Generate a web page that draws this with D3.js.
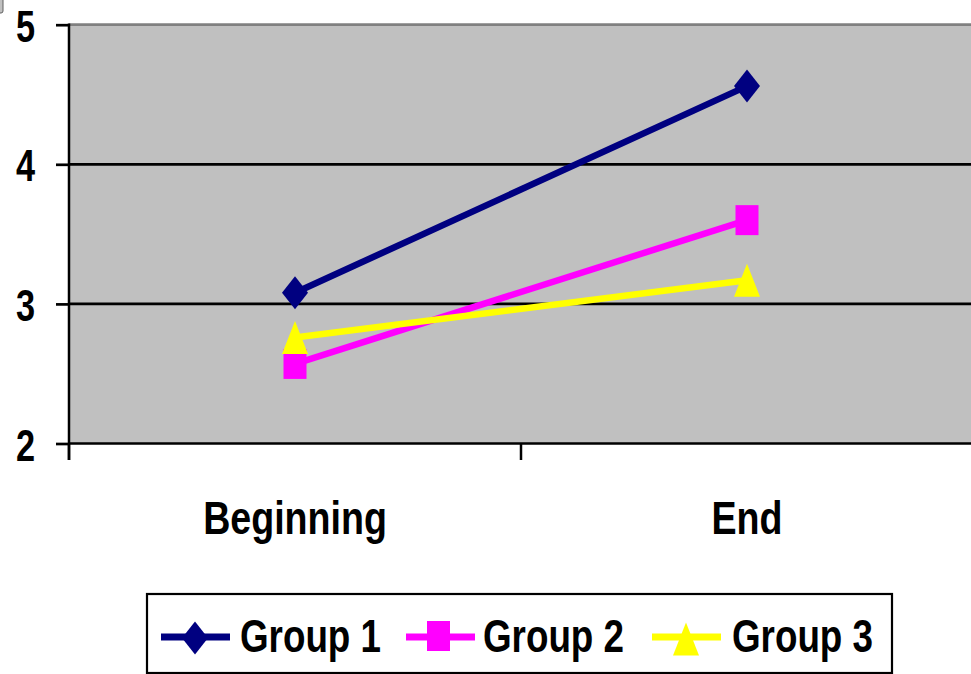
<!DOCTYPE html>
<html>
<head>
<meta charset="utf-8">
<script src="https://cdn.jsdelivr.net/npm/d3@7"></script>
<style>
  html, body { margin: 0; padding: 0; background: #fff; overflow: hidden; }
  svg { display: block; }
  text { font-family: "Liberation Sans", Arial, sans-serif; font-weight: bold; fill: #000; }
</style>
</head>
<body>
<svg id="chart" width="971" height="674"></svg>
<script>
// Categories, series and axis ticks
const categories = ["Beginning", "End"];
const seriesNames = ["Group 1", "Group 2", "Group 3"];
const group1 = [3.08, 4.56];
const group2 = [2.57, 3.60];
const group3 = [2.76, 3.17];
const yTicks = [2, 3, 4, 5];

const colors = ["#000080", "#FF00FF", "#FFFF00"];
const shapes = ["diamond", "square", "triangle"];
const seriesValues = [group1, group2, group3];

const svg = d3.select("#chart");
const plot = { left: 69, right: 973, top: 24.7, bottom: 443.5 };
const sx = 0.78; // horizontal squeeze for tick glyphs
const sxL = 0.80; // horizontal squeeze for category and legend glyphs

const x = d3.scaleBand().domain(categories).range([plot.left, plot.right]).padding(0);
const y = d3.scaleLinear().domain([2, 5]).range([plot.bottom, plot.top]);
const cx = c => x(c) + x.bandwidth() / 2;

// small corner widget
svg.append("rect").attr("x", -6).attr("y", -4).attr("width", 9).attr("height", 17).attr("rx", 2)
  .attr("fill", "#c0c0c0").attr("stroke", "#606060").attr("stroke-width", 1);

// plot background
svg.append("rect")
  .attr("x", plot.left).attr("y", plot.top)
  .attr("width", plot.right - plot.left).attr("height", plot.bottom - plot.top)
  .attr("fill", "#C0C0C0");
// top border
svg.append("line").attr("x1", plot.left).attr("x2", plot.right)
  .attr("y1", plot.top).attr("y2", plot.top)
  .attr("stroke", "#808080").attr("stroke-width", 2.7);

// horizontal gridlines
svg.append("g").selectAll("line").data(yTicks.filter(v => v > 2 && v < 5)).join("line")
  .attr("x1", plot.left).attr("x2", plot.right)
  .attr("y1", d => y(d)).attr("y2", d => y(d))
  .attr("stroke", "#000").attr("stroke-width", 2.7);

// y axis
const yAxis = d3.axisLeft(y).tickValues(yTicks).tickSize(13).tickFormat("");
const gy = svg.append("g").attr("transform", `translate(${plot.left},0)`).call(yAxis);
gy.select(".domain").remove();
gy.selectAll(".tick line").attr("stroke", "#000").attr("stroke-width", 2.7);
svg.append("line").attr("x1", plot.left).attr("x2", plot.left)
  .attr("y1", plot.top - 1.3).attr("y2", 460)
  .attr("stroke", "#000").attr("stroke-width", 2.5);

// y tick labels
svg.append("g").selectAll("text").data(yTicks).join("text")
  .attr("transform", d => `translate(35,${y(d) + 17}) scale(${sx},1)`)
  .attr("text-anchor", "end")
  .attr("font-size", 44)
  .text(d => d);

// x axis
svg.append("line").attr("x1", plot.left).attr("x2", plot.right)
  .attr("y1", plot.bottom).attr("y2", plot.bottom)
  .attr("stroke", "#000").attr("stroke-width", 2.7);
const xTickPos = categories.map(c => x(c)).concat([plot.right]);
svg.append("g").selectAll("line").data(xTickPos).join("line")
  .attr("x1", d => d).attr("x2", d => d)
  .attr("y1", plot.bottom).attr("y2", 460)
  .attr("stroke", "#000").attr("stroke-width", 2.5);

// category labels
svg.append("g").selectAll("text").data(categories).join("text")
  .attr("transform", d => `translate(${cx(d)},534) scale(${sxL},1)`)
  .attr("text-anchor", "middle")
  .attr("font-size", 47)
  .text(d => d);

// marker path generator (width w, height h, centered at origin)
function markerPath(shape, w, h) {
  const a = w / 2, b = h / 2;
  if (shape === "diamond") return `M0,${-b}L${a},0L0,${b}L${-a},0Z`;
  if (shape === "square") return `M${-a},${-b}H${a}V${b}H${-a}Z`;
  return `M0,${-b}L${a},${b}L${-a},${b}Z`;
}
const markerSize = {
  diamond: [26, 33],
  square: [23, 30],
  triangle: [26, 33]
};

// series lines and markers
const line = d3.line().x((d, i) => cx(categories[i])).y(d => y(d));
seriesValues.forEach((vals, si) => {
  const g = svg.append("g");
  g.append("path").datum(vals)
    .attr("d", line)
    .attr("fill", "none")
    .attr("stroke", colors[si])
    .attr("stroke-width", 6.5);
  const [mw, mh] = markerSize[shapes[si]];
  g.selectAll("path.m").data(vals).join("path")
    .attr("class", "m")
    .attr("transform", (d, i) => `translate(${cx(categories[i])},${y(d)})`)
    .attr("d", markerPath(shapes[si], mw, mh))
    .attr("fill", colors[si]);
});

// legend
const legend = svg.append("g");
legend.append("rect")
  .attr("x", 147).attr("y", 594).attr("width", 745).attr("height", 79)
  .attr("fill", "#fff").attr("stroke", "#000").attr("stroke-width", 2.2);
const legendItems = [
  { x0: 161, x1: 230, mx: 195, tx: 240, my: 638 },
  { x0: 406, x1: 475, mx: 438.5, tx: 483, my: 636 },
  { x0: 652, x1: 721, mx: 686, tx: 732, my: 639 }
];
legendItems.forEach((it, si) => {
  legend.append("line")
    .attr("x1", it.x0).attr("x2", it.x1).attr("y1", 637).attr("y2", 637)
    .attr("stroke", colors[si]).attr("stroke-width", 7);
  const [mw, mh] = markerSize[shapes[si]];
  legend.append("path")
    .attr("transform", `translate(${it.mx},${it.my})`)
    .attr("d", markerPath(shapes[si], mw, mh))
    .attr("fill", colors[si]);
  legend.append("text")
    .attr("transform", `translate(${it.tx},652) scale(${sxL},1)`)
    .attr("font-size", 46)
    .text(seriesNames[si]);
});
</script>
</body>
</html>
